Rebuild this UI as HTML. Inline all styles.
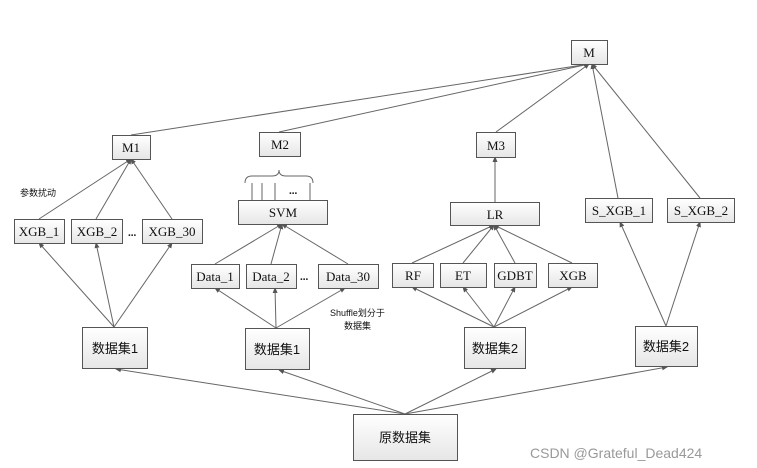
<!DOCTYPE html>
<html><head><meta charset="utf-8"><style>
html,body{margin:0;padding:0;background:#fff;}
svg{display:block;}
text{font-family:"Liberation Serif","Noto Serif CJK SC",serif;font-size:13px;fill:#111;}
.cn{font-family:"Liberation Sans","Noto Sans CJK SC",sans-serif;}
</style></head><body>
<svg width="757" height="468" viewBox="0 0 757 468" xmlns="http://www.w3.org/2000/svg">
<defs>
<linearGradient id="g" x1="0" y1="0" x2="0" y2="1"><stop offset="0" stop-color="#ffffff"/><stop offset="1" stop-color="#e6e6e6"/></linearGradient>
<marker id="a" markerWidth="6" markerHeight="6" refX="5" refY="3" orient="auto" markerUnits="userSpaceOnUse"><path d="M0,0.5 L6,3 L0,5.5 z" fill="#555"/></marker>
</defs>
<g stroke="#666" stroke-width="1" fill="none" marker-end="url(#a)">
<!-- to M -->
<line x1="131" y1="135" x2="589" y2="64"/>
<line x1="279" y1="132" x2="589" y2="64"/>
<line x1="496" y1="132" x2="589" y2="64"/>
<line x1="618" y1="198" x2="592" y2="64"/>
<line x1="700" y1="198" x2="592" y2="64"/>
<!-- to M1 -->
<line x1="39" y1="219" x2="131" y2="159"/>
<line x1="96" y1="219" x2="131" y2="159"/>
<line x1="172" y1="219" x2="131" y2="159"/>
<!-- to M3 -->
<line x1="495" y1="202" x2="495" y2="157"/>
<!-- to SVM -->
<line x1="215" y1="264" x2="282" y2="224"/>
<line x1="271" y1="264" x2="282" y2="224"/>
<line x1="348" y1="264" x2="282" y2="224"/>
<!-- to LR -->
<line x1="412" y1="263" x2="494" y2="225"/>
<line x1="463" y1="263" x2="494" y2="225"/>
<line x1="515" y1="263" x2="494" y2="225"/>
<line x1="572" y1="263" x2="494" y2="225"/>
<!-- to S_XGB -->
<line x1="666" y1="326" x2="620" y2="222"/>
<line x1="666" y1="326" x2="700" y2="222"/>
<!-- from 数据集1 left -->
<line x1="114" y1="327" x2="39" y2="243"/>
<line x1="114" y1="327" x2="96" y2="243"/>
<line x1="114" y1="327" x2="172" y2="243"/>
<!-- from 数据集1 mid -->
<line x1="276" y1="328" x2="215" y2="288"/>
<line x1="276" y1="328" x2="275" y2="288"/>
<line x1="276" y1="328" x2="345" y2="288"/>
<!-- from 数据集2 -->
<line x1="494" y1="327" x2="412" y2="287"/>
<line x1="494" y1="327" x2="463" y2="287"/>
<line x1="494" y1="327" x2="515" y2="287"/>
<line x1="494" y1="327" x2="572" y2="287"/>
<!-- from 原数据集 -->
<line x1="405" y1="414" x2="116" y2="369"/>
<line x1="405" y1="414" x2="279" y2="370"/>
<line x1="405" y1="414" x2="496" y2="369"/>
<line x1="405" y1="414" x2="667" y2="367"/>
</g>
<!-- brace and lines -->
<g stroke="#666" fill="none">
<path d="M245,183 Q245,176 252,176 L272,176 Q279,176 279,170 Q279,176 286,176 L306,176 Q313,176 313,183"/>
<line x1="252" y1="183" x2="252" y2="200"/>
<line x1="262" y1="183" x2="262" y2="200"/>
<line x1="275" y1="183" x2="275" y2="200"/>
<line x1="310" y1="183" x2="310" y2="200"/>
</g>
<text x="289" y="194" style="font-size:11px;font-weight:bold">...</text>
<g stroke="#555" fill="url(#g)">
<rect x="571.5" y="40.5" width="36" height="24"/>
<rect x="112.5" y="135.5" width="38" height="24"/>
<rect x="259.5" y="132.5" width="41" height="24"/>
<rect x="476.5" y="132.5" width="39" height="25"/>
<rect x="238.5" y="200.5" width="89" height="24"/>
<rect x="450.5" y="202.5" width="89" height="23"/>
<rect x="585.5" y="198.5" width="67" height="24"/>
<rect x="667.5" y="198.5" width="67" height="24"/>
<rect x="14.5" y="219.5" width="50" height="24"/>
<rect x="71.5" y="219.5" width="51" height="24"/>
<rect x="142.5" y="219.5" width="60" height="24"/>
<rect x="191.5" y="264.5" width="48" height="24"/>
<rect x="246.5" y="264.5" width="50" height="24"/>
<rect x="318.5" y="264.5" width="60" height="24"/>
<rect x="392.5" y="263.5" width="41" height="24"/>
<rect x="440.5" y="263.5" width="46" height="24"/>
<rect x="494.5" y="263.5" width="42" height="24"/>
<rect x="548.5" y="263.5" width="49" height="24"/>
<rect x="82.5" y="327.5" width="65" height="41"/>
<rect x="245.5" y="328.5" width="64" height="41"/>
<rect x="464.5" y="327.5" width="61" height="41"/>
<rect x="635.5" y="326.5" width="62" height="40"/>
<rect x="353.5" y="414.5" width="104" height="46"/>
</g>
<g text-anchor="middle">
<text x="589" y="57">M</text>
<text x="131" y="152">M1</text>
<text x="280" y="149">M2</text>
<text x="496" y="150">M3</text>
<text x="283" y="217">SVM</text>
<text x="495" y="219">LR</text>
<text x="619" y="215">S_XGB_1</text>
<text x="701" y="215">S_XGB_2</text>
<text x="39" y="236">XGB_1</text>
<text x="97" y="236">XGB_2</text>
<text x="172" y="236">XGB_30</text>
<text x="215" y="281">Data_1</text>
<text x="271" y="281">Data_2</text>
<text x="348" y="281">Data_30</text>
<text x="413" y="280">RF</text>
<text x="463" y="280">ET</text>
<text x="515" y="280">GDBT</text>
<text x="573" y="280">XGB</text>
<text class="cn" x="115" y="353">数据集1</text>
<text class="cn" x="277" y="354">数据集1</text>
<text class="cn" x="495" y="353">数据集2</text>
<text class="cn" x="666" y="351">数据集2</text>
<text class="cn" x="405" y="442">原数据集</text>
</g>
<text x="128" y="236" style="font-size:11px;font-weight:bold">...</text>
<text x="300" y="280" style="font-size:11px;font-weight:bold">...</text>
<text class="cn" x="20" y="196" style="font-size:9px">参数扰动</text>
<text class="cn" x="330" y="316" style="font-size:9px">Shuffle划分于</text>
<text class="cn" x="344" y="329" style="font-size:9px">数据集</text>
<text x="530" y="458" style="font-family:'Liberation Sans',sans-serif;font-size:14px;fill:#999">CSDN @Grateful_Dead424</text>
</svg>
</body></html>
